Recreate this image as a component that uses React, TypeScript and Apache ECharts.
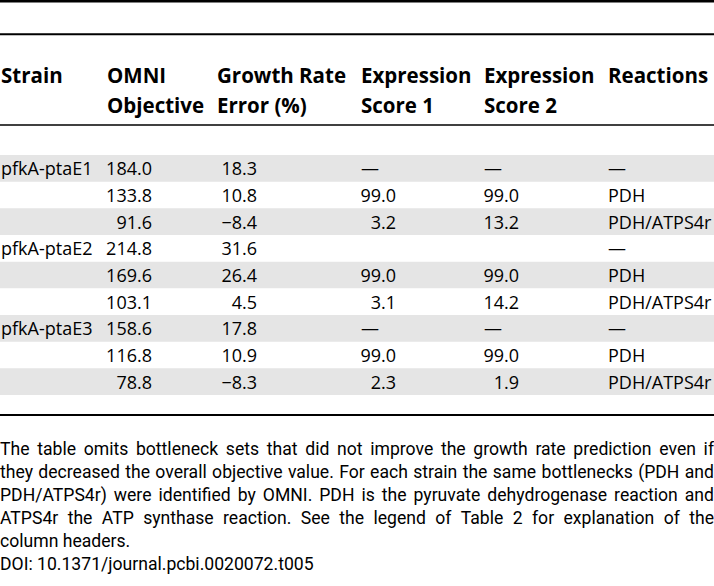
import React, { useEffect, useRef } from "react";
import * as echarts from "echarts";

// ---- Data ----
const headerLine1 = ["Strain", "OMNI", "Growth Rate", "Expression", "Expression", "Reactions"];
const headerLine2 = ["", "Objective", "Error (%)", "Score 1", "Score 2", ""];
const strains = ["pfkA-ptaE1", "", "", "pfkA-ptaE2", "", "", "pfkA-ptaE3", "", ""];
const omniObjective = [184.0, 133.8, 91.6, 214.8, 169.6, 103.1, 158.6, 116.8, 78.8];
const growthRateError = [18.3, 10.8, -8.4, 31.6, 26.4, 4.5, 17.8, 10.9, -8.3];
const expressionScore1: (number | string)[] = ["—", 99.0, 3.2, "", 99.0, 3.1, "—", 99.0, 2.3];
const expressionScore2: (number | string)[] = ["—", 99.0, 13.2, "", 99.0, 14.2, "—", 99.0, 1.9];
const reactions = ["—", "PDH", "PDH/ATPS4r", "—", "PDH", "PDH/ATPS4r", "—", "PDH", "PDH/ATPS4r"];
const footnoteJustified = [
  "The table omits bottleneck sets that did not improve the growth rate prediction even if",
  "they decreased the overall objective value. For each strain the same bottlenecks (PDH and",
  "PDH/ATPS4r) were identified by OMNI. PDH is the pyruvate dehydrogenase reaction and",
  "ATPS4r the ATP synthase reaction. See the legend of Table 2 for explanation of the",
];
const footnoteLast = ["column headers.", "DOI: 10.1371/journal.pcbi.0020072.t005"];

// ---- Layout ----
const W = 714;
const H = 586;
const FAMILY = '"Open Sans", "Noto Sans", sans-serif';
const HEAD_FONT = `bold 20.5px ${FAMILY}`;
const BODY_FONT = `18px ${FAMILY}`;
const NOTE_SIZE = 17.6;
const NOTE_FONT = `${NOTE_SIZE}px Roboto, ${FAMILY}`;
const colLeft = [1, 107, 217, 361, 484, 608];
const colRight = [0, 152, 257, 396, 519, 0];
const head1Y = 75;
const head2Y = 105;
const rowTop = 155;
const rowH = 26.67;
const noteY0 = 449;
const noteLH = 23;

function fmt(v: number | string): string {
  if (typeof v === "string") return v;
  return v < 0 ? "\u2212" + Math.abs(v).toFixed(1) : v.toFixed(1);
}

function buildGraphics(): any[] {
  const els: any[] = [];
  // striped rows
  strains.forEach((_, i) => {
    if (i % 2 === 0) {
      els.push({
        type: "rect",
        shape: { x: 0, y: rowTop + i * rowH, width: W, height: rowH },
        style: { fill: "#e5e5e5" },
        silent: true,
      });
    }
  });
  // rules
  const rule = (y: number, lw: number) =>
    els.push({
      type: "line",
      shape: { x1: 0, y1: y, x2: W, y2: y },
      style: { stroke: "#000", lineWidth: lw },
      silent: true,
    });
  rule(1.2, 2.4);
  rule(34.3, 2);
  rule(125, 1.6);
  rule(415, 2);

  const txt = (text: string, x: number, y: number, font: string, align = "left") =>
    els.push({
      type: "text",
      x,
      y,
      silent: true,
      style: { text, font, fill: "#000", textAlign: align, textVerticalAlign: "middle" },
    });

  // header
  headerLine1.forEach((t, c) => t && txt(t, colLeft[c], head1Y, HEAD_FONT));
  headerLine2.forEach((t, c) => t && txt(t, colLeft[c], head2Y, HEAD_FONT));

  // body
  const numCols = [omniObjective, growthRateError, expressionScore1, expressionScore2];
  strains.forEach((s, i) => {
    const y = rowTop + i * rowH + rowH / 2;
    if (s) txt(s, colLeft[0], y, BODY_FONT);
    numCols.forEach((col, k) => {
      const v = col[i];
      const c = k + 1;
      if (typeof v === "string") {
        if (v) txt(v, colLeft[c], y, BODY_FONT);
      } else {
        txt(fmt(v), colRight[c], y, BODY_FONT, "right");
      }
    });
    txt(reactions[i], colLeft[5], y, BODY_FONT);
  });

  // footnote (justified)
  const canvas = document.createElement("canvas");
  const ctx = canvas.getContext("2d")!;
  ctx.font = NOTE_FONT;
  footnoteJustified.forEach((line, li) => {
    const words = line.split(" ");
    const widths = words.map((w) => ctx.measureText(w).width);
    const total = widths.reduce((a, b) => a + b, 0);
    const gap = (W - total) / (words.length - 1);
    let x = 0;
    const y = noteY0 + li * noteLH;
    words.forEach((w, wi) => {
      txt(w, x, y, NOTE_FONT);
      x += widths[wi] + gap;
    });
  });
  footnoteLast.forEach((line, k) => {
    txt(line, 0, noteY0 + (footnoteJustified.length + k) * noteLH, NOTE_FONT);
  });
  return els;
}

export default function App() {
  const ref = useRef<HTMLDivElement>(null);
  useEffect(() => {
    if (!ref.current) return;
    const chart = echarts.init(ref.current, undefined, { renderer: "svg" });
    chart.setOption({
      animation: false,
      backgroundColor: "#fff",
      graphic: { elements: buildGraphics() },
    });
    return () => chart.dispose();
  }, []);
  return (
    <div
      ref={ref}
      style={{ position: "absolute", left: 0, top: 0, width: W, height: H, background: "#fff" }}
    />
  );
}
